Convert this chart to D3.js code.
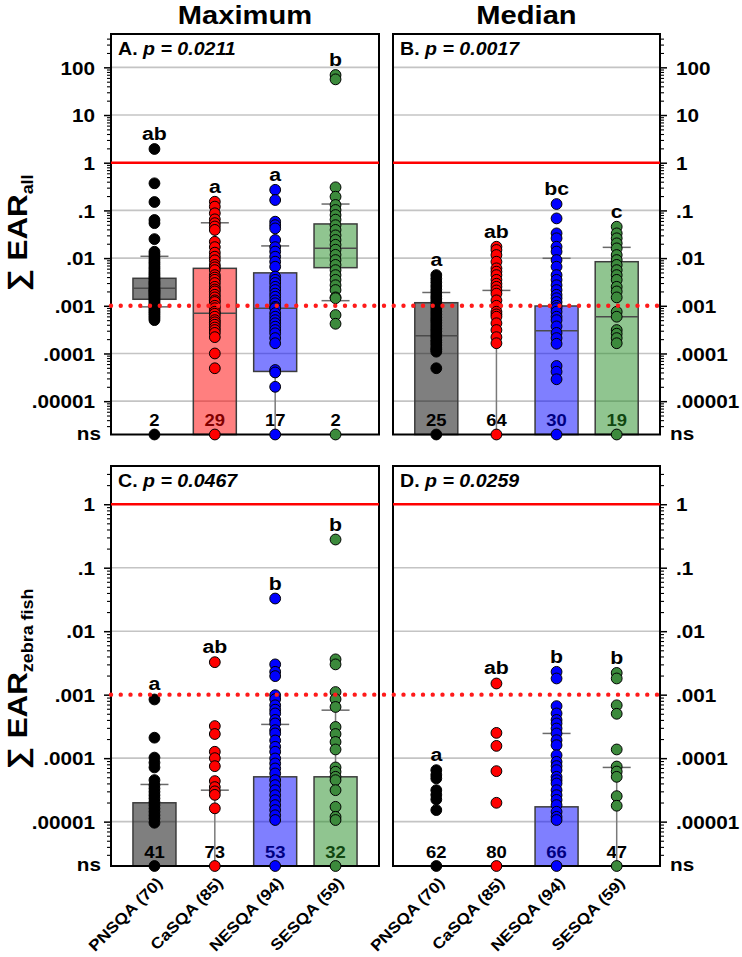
<!DOCTYPE html>
<html><head><meta charset="utf-8">
<script src="https://cdn.jsdelivr.net/npm/d3@7"></script>
<style>body{margin:0;background:#fff} svg{display:block}</style>
</head><body><svg id="c" width="742" height="957"></svg>
<script>
// ---------- data ----------
const categories = ["PNSQA (70)", "CaSQA (85)", "NESQA (94)", "SESQA (59)"];
const columnTitles = ["Maximum", "Median"];
const panelLetters = ["A.", "B.", "C.", "D."];
const pValues = ["0.0211", "0.0017", "0.0467", "0.0259"];
const tickValuesAll = [100, 10, 1, 0.1, 0.01, 0.001, 0.0001, 0.00001];
const tickLabelsAll = ["100", "10", "1", ".1", ".01", ".001", ".0001", ".00001"];
const tickValuesZebra = [1, 0.1, 0.01, 0.001, 0.0001, 0.00001];
const tickLabelsZebra = ["1", ".1", ".01", ".001", ".0001", ".00001"];
const nsLabel = "ns";
const nsValue = 2e-6;          // value at which non-detects are plotted
const topAll = 500, topZebra = 4;
const effectThreshold = 1, screenThreshold = 0.001;

// detected values per group  [PNSQA, CaSQA, NESQA, SESQA]
const maxAllValues = [
  [1.94, 0.37, 0.15, 0.063, 0.054, 0.025, 0.0136, 0.012, 0.0105, 0.0092, 0.0082, 0.0074, 0.0066, 0.006, 0.0054, 0.0049, 0.0045, 0.0041, 0.0038, 0.0035, 0.0032, 0.003, 0.0028, 0.0026, 0.0024, 0.0022, 0.0021, 0.002, 0.0019, 0.0018, 0.0017, 0.0016, 0.0015, 0.0014, 0.0013, 0.0012, 0.0011, 0.001, 0.00093, 0.00085, 0.00078, 0.00072, 0.00066, 0.0006, 0.00055, 0.0005],
  [0.152, 0.12, 0.087, 0.065, 0.054, 0.046, 0.039, 0.022, 0.017, 0.013, 0.0107, 0.009, 0.0072, 0.0064, 0.0056, 0.0044, 0.0039, 0.0035, 0.003, 0.0025, 0.0022, 0.002, 0.0017, 0.0015, 0.0013, 0.0012, 0.001, 0.00089, 0.00075, 0.00068, 0.00059, 0.0005, 0.00045, 0.0004, 0.00035, 0.00031, 0.00027, 0.00022, 0.0001, 0.000049],
  [0.27, 0.165, 0.058, 0.049, 0.042, 0.024, 0.017, 0.0137, 0.0107, 0.0084, 0.0066, 0.0041, 0.0035, 0.003, 0.0025, 0.00214, 0.0018, 0.00155, 0.0013, 0.00113, 0.00095, 0.00089, 0.0007, 0.00059, 0.0005, 0.00043, 0.000365, 0.00031, 0.000265, 0.00021, 0.000164, 0.000045, 0.00004, 0.00002],
  [69, 56, 0.305, 0.194, 0.13, 0.102, 0.08, 0.064, 0.049, 0.039, 0.03, 0.024, 0.019, 0.015, 0.0117, 0.0091, 0.0072, 0.0056, 0.0044, 0.0035, 0.0027, 0.00214, 0.0015, 0.00144, 0.00064, 0.00042]
];
const medianAllValues = [
  [0.0044, 0.0037, 0.0031, 0.0026, 0.0022, 0.0019, 0.0016, 0.0014, 0.0012, 0.001, 0.00088, 0.00076, 0.00066, 0.00057, 0.0005, 0.00044, 0.00038, 0.00033, 0.00029, 0.00025, 0.00022, 0.00019, 0.00017, 0.00015, 0.00013, 0.00012, 0.000109, 0.000049],
  [0.0173, 0.0148, 0.0116, 0.0084, 0.0061, 0.0052, 0.0044, 0.0035, 0.0029, 0.0025, 0.0021, 0.0018, 0.0013, 0.001, 0.00075, 0.00066, 0.00059, 0.00043, 0.00031, 0.00022, 0.000164],
  [0.136, 0.068, 0.033, 0.026, 0.0173, 0.0137, 0.0091, 0.0066, 0.0044, 0.0035, 0.0027, 0.00214, 0.0017, 0.00144, 0.0012, 0.001, 0.00089, 0.00075, 0.00059, 0.0005, 0.00037, 0.00027, 0.00021, 0.00016, 0.0000547, 0.0000415, 0.0000288],
  [0.0455, 0.033, 0.026, 0.0204, 0.016, 0.0116, 0.0091, 0.0072, 0.0056, 0.0044, 0.0035, 0.0025, 0.002, 0.0015, 0.00075, 0.00059, 0.00031, 0.00026, 0.00021, 0.000164]
];
const maxZebraValues = [
  [0.00084, 0.00021, 0.000102, 0.000085, 0.0000714, 0.0000451, 0.0000376, 0.0000333, 0.0000295, 0.0000261, 0.0000232, 0.0000205, 0.0000182, 0.0000161, 0.0000143, 0.0000126, 0.0000112, 0.0000096],
  [0.00325, 0.00032, 0.00024, 0.000126, 0.0001, 0.0000748, 0.0000435, 0.000035, 0.00003, 0.0000264, 0.0000162],
  [0.0327, 0.003, 0.00229, 0.00196, 0.00098, 0.00085, 0.00068, 0.00058, 0.000506, 0.0004, 0.000352, 0.000276, 0.000245, 0.00019, 0.000151, 0.000126, 0.0000989, 0.0000825, 0.0000688, 0.0000574, 0.0000451, 0.0000376, 0.0000313, 0.0000261, 0.0000218, 0.0000182, 0.0000152, 0.0000126, 0.0000106],
  [0.278, 0.0036, 0.003, 0.0011, 0.00085, 0.00064, 0.00031, 0.00024, 0.00018, 0.000137, 0.0000714, 0.000061, 0.0000508, 0.000045, 0.0000313, 0.0000171, 0.0000119, 0.0000106]
];
const medianZebraValues = [
  [0.0000647, 0.0000545, 0.000048, 0.0000313, 0.0000264, 0.0000224, 0.0000152],
  [0.0015, 0.00025, 0.000156, 0.0000624, 0.0000198],
  [0.00229, 0.0018, 0.00066, 0.000506, 0.0004, 0.000352, 0.000293, 0.000245, 0.000192, 0.00016, 0.000111, 0.0000875, 0.000075, 0.0000647, 0.0000508, 0.000045, 0.0000399, 0.0000313, 0.0000261, 0.000022, 0.0000182, 0.0000143, 0.0000119, 0.0000106],
  [0.0022, 0.0018, 0.00068, 0.0005, 0.000137, 0.0000738, 0.0000615, 0.0000508, 0.0000252, 0.0000178]
];

// non-detect counts
const maxAllNs = [2, 29, 17, 2];
const medianAllNs = [25, 64, 30, 19];
const maxZebraNs = [41, 73, 53, 32];
const medianZebraNs = [62, 80, 66, 47];

// significance letters
const maxAllLetters = ["ab", "a", "a", "b"];
const medianAllLetters = ["a", "ab", "bc", "c"];
const maxZebraLetters = ["a", "ab", "b", "b"];
const medianZebraLetters = ["a", "ab", "b", "b"];

// box statistics [q1, median, q3, p10, p90]; "ns" = below detection, null = not shown
const maxAllStats = [[0.00137, 0.00233, 0.00377, 0.00095, 0.0109], ["ns", 0.0007, 0.0061, "ns", 0.055], [0.000042, 0.00089, 0.0049, "ns", 0.018], [0.0063, 0.016, 0.052, 0.00128, 0.136]];
const medianAllStats = [["ns", 0.000236, 0.00116, null, 0.0019], [null, null, null, "ns", 0.0021], ["ns", 0.0003, 0.00099, null, 0.0099], ["ns", 0.00059, 0.0084, null, 0.0168]];
const maxZebraStats = [["ns", null, 0.0000198, null, 0.0000385], [null, null, null, "ns", 0.0000313], ["ns", null, 0.0000508, null, 0.00034], ["ns", null, 0.0000508, null, 0.00057]];
const medianZebraStats = [[null, null, null, null, null], [null, null, null, null, null], ["ns", null, 0.0000171, null, 0.000245], [null, null, null, "ns", 0.0000714]];

// ---------- styles ----------
const dotColors = ["#000000", "#ff0000", "#0000ff", "#3c8a3c"];
const barColors = ["#000000", "#ff0000", "#0000ff", "#228b22"];
const FONT = "'Liberation Sans', Arial, Helvetica, sans-serif";
const SX = 1.12;

const svg = d3.select("#c");

function label(parent, x, y, str, size, o = {}) {
  const t = parent.append("text")
    .attr("transform", `translate(${x},${y})` + (o.rot ? ` rotate(${o.rot})` : "") + ` scale(${o.sx || SX},1)`)
    .attr("font-family", FONT).attr("font-weight", o.weight || "bold")
    .attr("font-size", size).attr("text-anchor", o.anchor || "middle")
    .attr("fill", o.fill || "#000");
  if (o.italic) t.attr("font-style", "italic");
  if (str != null) t.text(str);
  return t;
}

const panels = [
  {values: maxAllValues, stats: maxAllStats, ns: maxAllNs, letters: maxAllLetters, tag: panelLetters[0], p: pValues[0], x0: 111, x1: 379, y0: 34, y1: 434.5, top: topAll, tv: tickValuesAll, tl: tickLabelsAll, side: "left"},
  {values: medianAllValues, stats: medianAllStats, ns: medianAllNs, letters: medianAllLetters, tag: panelLetters[1], p: pValues[1], x0: 393, x1: 660, y0: 34, y1: 434.5, top: topAll, tv: tickValuesAll, tl: tickLabelsAll, side: "right"},
  {values: maxZebraValues, stats: maxZebraStats, ns: maxZebraNs, letters: maxZebraLetters, tag: panelLetters[2], p: pValues[2], x0: 111, x1: 379, y0: 466, y1: 866, top: topZebra, tv: tickValuesZebra, tl: tickLabelsZebra, side: "left", xlabels: true},
  {values: medianZebraValues, stats: medianZebraStats, ns: medianZebraNs, letters: medianZebraLetters, tag: panelLetters[3], p: pValues[3], x0: 393, x1: 660, y0: 466, y1: 866, top: topZebra, tv: tickValuesZebra, tl: tickLabelsZebra, side: "right", xlabels: true}
];

panels.forEach(P => {
  const x = d3.scalePoint().domain(categories).range([P.x0, P.x1]).padding(0.72);
  const y = d3.scaleLog().domain([nsValue, P.top]).range([P.y1, P.y0]);
  const yv = v => (v === "ns" ? y(nsValue) : y(v));
  P.y = y;
  const g = svg.append("g");

  // grid
  g.selectAll("line.grid").data(P.tv.filter(v => v !== effectThreshold && v !== screenThreshold)).enter()
    .append("line").attr("x1", P.x0).attr("x2", P.x1).attr("y1", d => y(d)).attr("y2", d => y(d))
    .attr("stroke", "#c4c4c4").attr("stroke-width", 1.6);

  // non-detect counts (under the translucent bars)
  categories.forEach((c, i) => label(g, x(c), P.y1 - 8.5, String(P.ns[i]), 16.5));

  // whiskers, boxes, medians, caps
  const bw = 43, cw = 28;
  categories.forEach((c, i) => {
    const [q1, med, q3, p10, p90] = P.stats[i];
    const cx = x(c);
    const vline = (a, b) => g.append("line").attr("x1", cx).attr("x2", cx).attr("y1", yv(a)).attr("y2", yv(b))
      .attr("stroke", "#7a7a7a").attr("stroke-width", 1.5);
    const hline = (v, w, col) => g.append("line").attr("x1", cx - w / 2).attr("x2", cx + w / 2).attr("y1", yv(v)).attr("y2", yv(v))
      .attr("stroke", col).attr("stroke-width", 1.5);
    if (q3 != null) {
      if (p90 != null) vline(q3, p90);
      if (p10 != null) vline(q1, p10);
      g.append("rect").attr("x", cx - bw / 2).attr("width", bw).attr("y", yv(q3)).attr("height", yv(q1) - yv(q3))
        .attr("fill", barColors[i]).attr("fill-opacity", 0.5).attr("stroke", "#3c3c3c").attr("stroke-width", 1.5);
      if (med != null) hline(med, bw, "#4a4a4a");
    } else if (p90 != null && p10 != null) {
      vline(p90, p10);
    }
    if (p90 != null) hline(p90, cw, "#6a6a6a");
    if (p10 != null && p10 !== "ns") hline(p10, cw, "#6a6a6a");
  });

  // frame
  g.append("rect").attr("x", P.x0).attr("y", P.y0).attr("width", P.x1 - P.x0).attr("height", P.y1 - P.y0)
    .attr("fill", "none").attr("stroke", "#000").attr("stroke-width", 2);

  // axis ticks
  const axisFn = P.side === "left" ? d3.axisLeft : d3.axisRight;
  const ax = P.side === "left" ? P.x0 : P.x1;
  const minorVals = y.ticks().filter(v => !P.tv.includes(v) && v > nsValue * 1.01 && v < P.top * 0.999);
  const minor = g.append("g").attr("transform", `translate(${ax},0)`)
    .call(axisFn(y).tickValues(minorVals).tickSize(4).tickFormat(""));
  minor.select(".domain").remove();
  minor.selectAll("line").attr("stroke", "#000").attr("stroke-width", 1.1);
  const major = g.append("g").attr("transform", `translate(${ax},0)`)
    .call(axisFn(y).tickValues(P.tv).tickSize(7).tickFormat(d => P.tl[P.tv.indexOf(d)]));
  major.select(".domain").remove();
  major.selectAll("line").attr("stroke", "#000").attr("stroke-width", 1.5);
  const dir = P.side === "left" ? -1 : 1;
  major.selectAll("text").attr("x", 0).attr("dy", null)
    .attr("transform", `translate(${dir * 16},6.7) scale(${SX},1)`)
    .attr("font-family", FONT).attr("font-weight", "bold").attr("font-size", 18.5).attr("fill", "#000")
    .attr("text-anchor", P.side === "left" ? "end" : "start");
  label(g, ax + dir * 10, P.y1 + 5, nsLabel, 18.5, {anchor: P.side === "left" ? "end" : "start"});

  // dots
  categories.forEach((c, i) => {
    const pts = P.values[i].concat(P.ns[i] > 0 ? [nsValue] : []);
    g.selectAll(null).data(pts).enter().append("circle")
      .attr("cx", x(c)).attr("cy", d => y(d)).attr("r", 5.4)
      .attr("fill", dotColors[i]).attr("stroke", "#000").attr("stroke-width", 1);
    const mx = d3.max(P.values[i]);
    label(g, x(c), y(mx) - 9, P.letters[i], 19);
  });

  // effect threshold (solid red)
  g.append("line").attr("x1", P.x0).attr("x2", P.x1).attr("y1", y(effectThreshold)).attr("y2", y(effectThreshold))
    .attr("stroke", "#ff0000").attr("stroke-width", 2.4);

  // panel tag and p value
  const t = label(g, P.x0 + 7, P.y0 + 21, null, 17.5, {anchor: "start"});
  t.append("tspan").text(P.tag);
  t.append("tspan").attr("font-style", "italic").text(" p = " + P.p);

  // x labels
  if (P.xlabels) {
    categories.forEach(c => label(svg, x(c) + 9, P.y1 + 18, c, 15.5, {anchor: "end", rot: -45}));
  }
});

// screening threshold dotted line across each row
[[panels[0], panels[1]], [panels[2], panels[3]]].forEach(([L, R]) => {
  const yy = L.y(screenThreshold);
  svg.append("line").attr("x1", L.x0).attr("x2", R.x1 + 1).attr("y1", yy).attr("y2", yy)
    .attr("stroke", "#ff1a1a").attr("stroke-width", 4.4).attr("stroke-linecap", "round")
    .attr("stroke-dasharray", "0 9.75");
});

// column titles
label(svg, 245, 24, columnTitles[0], 26);
label(svg, 526.5, 24, columnTitles[1], 26);

// y titles
const yt1 = label(svg, 27, 233, null, 28, {anchor: "middle", rot: -90});
yt1.append("tspan").text("\u2211 EAR");
yt1.append("tspan").attr("font-size", 16).attr("dy", 6).text("all");
const yt2 = label(svg, 27, 679, null, 28, {anchor: "middle", rot: -90});
yt2.append("tspan").text("\u2211 EAR");
yt2.append("tspan").attr("font-size", 16).attr("dy", 6).text("zebra fish");
</script>
</body></html>
